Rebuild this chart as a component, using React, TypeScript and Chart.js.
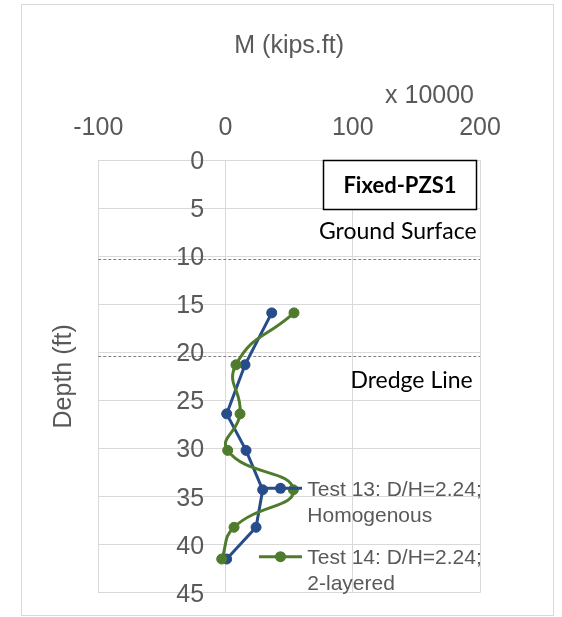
import React, { useEffect, useRef } from "react";
import { Chart, registerables } from "chart.js";

Chart.register(...registerables);

// Bending moment profiles (x 10000 kips.ft) against depth (ft)
const depths = [15.9, 21.3, 26.4, 30.2, 34.3, 38.2, 41.5];
const test13Moment = [36.3, 15.3, 0.9, 16.1, 29.2, 24.0, 0.9];
const test14Moment = [53.8, 8.2, 11.4, 1.7, 53.3, 6.7, -3.0];

const seriesLabels = [
  ["Test 13: D/H=2.24;", "Homogenous"],
  ["Test 14: D/H=2.24;", "2-layered"],
];
const seriesColors = ["#264c8a", "#4f7c2c"];

const momentTicks = [-100, 0, 100, 200];
const depthTicks = [0, 5, 10, 15, 20, 25, 30, 35, 40, 45];

const referenceDepths = [10.3, 20.35];
const referenceLabels = ["Ground Surface", "Dredge Line"];

const panelTitle = "Fixed-PZS1";
const momentMultiplier = "x 10000";
const momentAxisTitle = "M (kips.ft)";
const depthAxisTitle = "Depth (ft)";

const SANS = "'Liberation Sans', Arial, sans-serif";
const HUMANIST = "Lato, 'Noto Sans', sans-serif";
const TEXT_GRAY = "#595959";
const GRID_GRAY = "#d9d9d9";

const decorations = {
  id: "decorations",
  beforeDraw(chart: any) {
    const { ctx, width, height } = chart;
    ctx.save();
    ctx.fillStyle = "#ffffff";
    ctx.fillRect(0, 0, width, height);
    ctx.strokeStyle = GRID_GRAY;
    ctx.lineWidth = 1;
    ctx.strokeRect(21.5, 4.5, 532, 611);
    ctx.restore();
  },
  beforeDatasetsDraw(chart: any) {
    const { ctx, chartArea, scales } = chart;
    const x = scales.x;
    const y = scales.y;
    ctx.save();
    // ground surface / dredge line markers
    ctx.strokeStyle = "#7f7f7f";
    ctx.lineWidth = 1;
    ctx.setLineDash([3, 2]);
    referenceDepths.forEach((d) => {
      const py = Math.round(y.getPixelForValue(d)) + 0.5;
      ctx.beginPath();
      ctx.moveTo(chartArea.left, py);
      ctx.lineTo(chartArea.right, py);
      ctx.stroke();
    });
    ctx.setLineDash([]);

    // depth tick labels sit beside the zero-moment axis
    const x0 = x.getPixelForValue(0);
    ctx.fillStyle = TEXT_GRAY;
    ctx.font = `25px ${SANS}`;
    ctx.textAlign = "right";
    ctx.textBaseline = "alphabetic";
    depthTicks.forEach((t) => {
      ctx.fillText(String(t), x0 - 21.5, y.getPixelForValue(t) + 9);
    });

    // multiplier above the moment ticks
    ctx.fillText(momentMultiplier, 474, 102.7);

    // panel title box
    ctx.fillStyle = "#ffffff";
    ctx.fillRect(323.5, 160.5, 153, 49);
    ctx.strokeStyle = "#000000";
    ctx.lineWidth = 1.5;
    ctx.strokeRect(323.5, 160.5, 153, 49);
    ctx.fillStyle = "#000000";
    ctx.font = `bold 22px ${HUMANIST}`;
    ctx.textAlign = "center";
    ctx.fillText(panelTitle, 400, 192.7);

    // reference line captions
    ctx.font = `23px ${HUMANIST}`;
    ctx.textAlign = "right";
    ctx.fillText(referenceLabels[0], 476.7, y.getPixelForValue(referenceDepths[0]) - 20);
    ctx.fillText(referenceLabels[1], 472.7, y.getPixelForValue(referenceDepths[1]) + 32.6);
    ctx.restore();
  },
  afterDatasetsDraw(chart: any) {
    const { ctx } = chart;
    ctx.save();
    const rows = [488.3, 556.7];
    seriesLabels.forEach((lines, i) => {
      const cy = rows[i];
      const color = seriesColors[i];
      ctx.strokeStyle = color;
      ctx.lineWidth = 3;
      ctx.beginPath();
      ctx.moveTo(259, cy);
      ctx.lineTo(302, cy);
      ctx.stroke();
      ctx.fillStyle = color;
      ctx.beginPath();
      ctx.arc(280.5, cy, 5.5, 0, Math.PI * 2);
      ctx.fill();
      ctx.fillStyle = TEXT_GRAY;
      ctx.font = `21px ${SANS}`;
      ctx.textAlign = "left";
      ctx.textBaseline = "alphabetic";
      lines.forEach((line, j) => {
        ctx.fillText(line, 307.3, cy + 7.7 + j * 25.6);
      });
    });
    ctx.restore();
  },
};

export default function App() {
  const canvasRef = useRef<HTMLCanvasElement | null>(null);

  useEffect(() => {
    if (!canvasRef.current) return;
    const makeSeries = (values: number[], i: number, tension: number, order: number) => ({
      label: seriesLabels[i].join(" "),
      data: depths.map((d, k) => ({ x: values[k], y: d })),
      showLine: true,
      borderColor: seriesColors[i],
      backgroundColor: seriesColors[i],
      pointBackgroundColor: seriesColors[i],
      pointBorderColor: seriesColors[i],
      pointRadius: 5,
      pointBorderWidth: 1,
      borderWidth: 3,
      tension,
      order,
    });

    const chart = new Chart(canvasRef.current, {
      type: "scatter",
      data: {
        datasets: [
          makeSeries(test13Moment, 0, 0, 1),
          makeSeries(test14Moment, 1, 0.5, 0),
        ],
      },
      options: {
        animation: false,
        responsive: true,
        maintainAspectRatio: false,
        layout: { padding: { top: 10, left: 20, right: 82, bottom: 24.3 } },
        plugins: {
          legend: { display: false },
          tooltip: { enabled: false },
        },
        scales: {
          x: {
            type: "linear",
            position: "top",
            min: momentTicks[0],
            max: momentTicks[momentTicks.length - 1],
            afterBuildTicks: (scale: any) => {
              scale.ticks = momentTicks.map((v) => ({ value: v }));
            },
            ticks: {
              padding: 17.2,
              color: TEXT_GRAY,
              font: { size: 25, family: SANS },
              maxRotation: 0,
            },
            grid: { color: GRID_GRAY, drawTicks: false, lineWidth: 1 },
            border: { display: true, color: GRID_GRAY },
            title: {
              display: true,
              text: momentAxisTitle,
              color: TEXT_GRAY,
              font: { size: 25, family: SANS },
              padding: { top: 21.5, bottom: 34.1 },
            },
          },
          y: {
            type: "linear",
            reverse: true,
            min: depthTicks[0],
            max: depthTicks[depthTicks.length - 1],
            afterBuildTicks: (scale: any) => {
              scale.ticks = depthTicks.map((v) => ({ value: v }));
            },
            ticks: { display: false },
            grid: { color: GRID_GRAY, drawTicks: false, lineWidth: 1 },
            border: { display: true, color: GRID_GRAY },
            title: {
              display: true,
              text: depthAxisTitle,
              color: TEXT_GRAY,
              font: { size: 25, family: SANS },
              padding: { top: 29.5, bottom: 18.8 },
            },
          },
        },
      },
      plugins: [decorations],
    });
    return () => chart.destroy();
  }, []);

  return (
    <div style={{ position: "absolute", left: 0, top: 0, width: 562, height: 617 }}>
      <canvas ref={canvasRef} />
    </div>
  );
}
